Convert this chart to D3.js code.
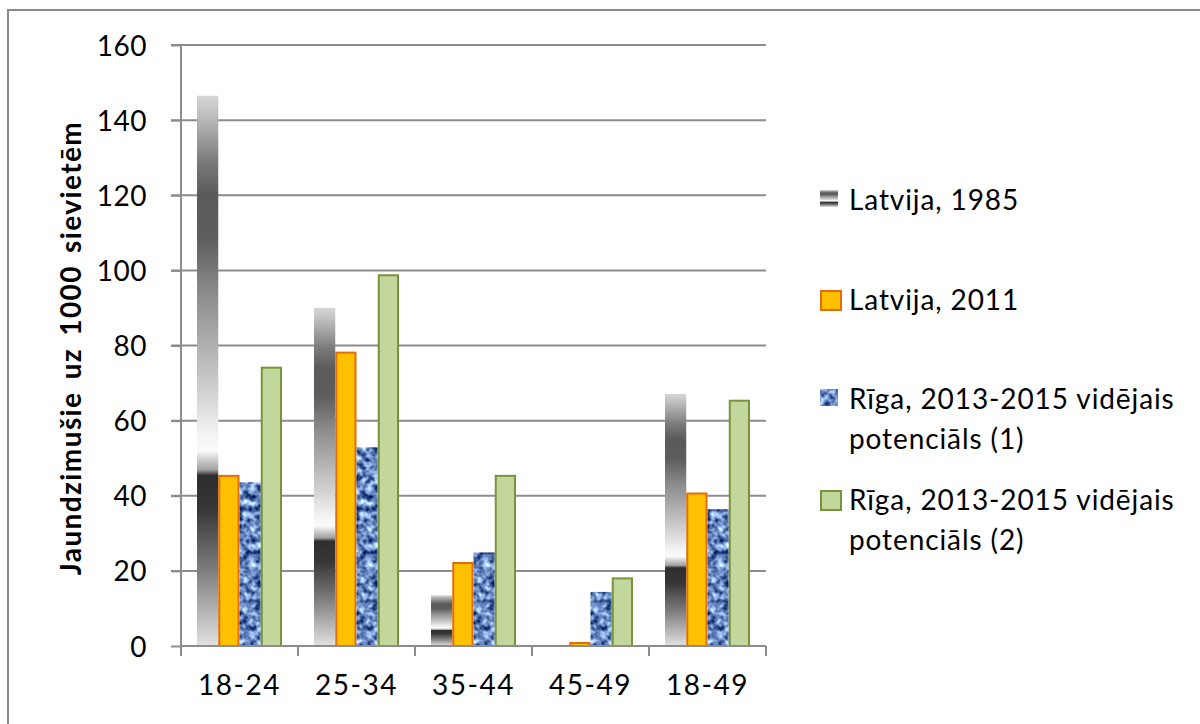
<!DOCTYPE html>
<html>
<head>
<meta charset="utf-8">
<script src="https://cdn.jsdelivr.net/npm/d3@7"></script>
<style>
  html, body { margin: 0; padding: 0; background: #fff; }
  svg { display: block; }
  text { font-family: Lato, "Open Sans", sans-serif; fill: #000; }
</style>
</head>
<body>
<svg id="chart" width="1200" height="724"></svg>
<script>
var categories = ['18-24', '25-34', '35-44', '45-49', '18-49'];
var latvija1985 = [146.5, 90, 13.5, 0.3, 67.1];
var latvija2011 = [45.3, 78.1, 22.1, 0.8, 40.6];
var riga1 = [43.6, 52.9, 24.9, 14.4, 36.4];
var riga2 = [74.1, 98.7, 45.3, 18.0, 65.3];
var yTicks = [0, 20, 40, 60, 80, 100, 120, 140, 160];

var seriesNames = [
    ['Latvija, 1985'],
    ['Latvija, 2011'],
    ['Rīga, 2013-2015 vidējais', 'potenciāls (1)'],
    ['Rīga, 2013-2015 vidējais', 'potenciāls (2)']
];
var seriesValues = [latvija1985, latvija2011, riga1, riga2];

var series = seriesValues.map(function (vals, i){
    return {key: 's' + i, lines: seriesNames[i], values: vals};
});

var svg = d3.select('#chart'),
    defs = svg.append('defs');

// metallic gray gradient used by Excel for the 1985 series
var metal = defs.append('linearGradient').attr('id', 'metal')
    .attr('x1', 0).attr('y1', 0).attr('x2', 0).attr('y2', 1);
[
    [0, '#d6d6d6'], [0.03, '#c2c2c2'], [0.12, '#7a7a7a'], [0.18, '#5a5a5a'],
    [0.26, '#5d5d5d'], [0.36, '#8c8c8c'], [0.46, '#b2b2b2'], [0.55, '#d6d6d6'],
    [0.62, '#f5f5f5'], [0.645, '#fbfbfb'], [0.66, '#d2d2d2'], [0.68, '#a0a0a0'],
    [0.69, '#2e2e2e'], [0.75, '#363636'], [0.86, '#7c7c7c'], [1, '#e2e2e2']
].forEach(function (s){
    metal.append('stop').attr('offset', s[0]).attr('stop-color', s[1]);
});

// blue "denim" texture
var denim = defs.append('filter').attr('id', 'denim')
    .attr('x', 0).attr('y', 0).attr('width', 1).attr('height', 1)
    .attr('color-interpolation-filters', 'sRGB');
denim.append('feTurbulence')
    .attr('type', 'fractalNoise')
    .attr('baseFrequency', 0.16)
    .attr('numOctaves', 2)
    .attr('seed', 7)
    .attr('result', 'noise');
denim.append('feColorMatrix')
    .attr('in', 'noise')
    .attr('type', 'matrix')
    .attr('values', '1.45 0 0 0 -0.32  1.5 0 0 0 -0.22  1.3 0 0 0 0.1  0 0 0 0 1')
    .attr('result', 'tex');
denim.append('feComposite')
    .attr('in', 'tex').attr('in2', 'SourceGraphic').attr('operator', 'in');

var styles = {
    s0: {fill: 'url(#metal)', stroke: 'none'},
    s1: {fill: '#ffc000', stroke: '#e46c0a'},
    s2: {fill: '#6f94d2', stroke: 'none', filter: 'url(#denim)'},
    s3: {fill: '#c3d69b', stroke: '#77933c'}
};

// outer frame
svg.append('rect')
    .attr('x', 8).attr('y', 10)
    .attr('width', 1200).attr('height', 730)
    .attr('fill', 'none')
    .attr('stroke', '#8a8a8a')
    .attr('stroke-width', 2);

var y = d3.scaleLinear().domain([0, 160]).range([646, 45]);
var x0 = d3.scaleBand().domain(categories).range([181, 766]);
var x1 = d3.scaleBand().domain(series.map(function (s){ return s.key; }))
    .range([16, x0.bandwidth() - 16]);

// gridlines
svg.append('g').selectAll('line')
    .data(yTicks.slice(1))
    .enter().append('line')
    .attr('x1', 171).attr('x2', 766)
    .attr('y1', function (d){ return y(d); })
    .attr('y2', function (d){ return y(d); })
    .attr('stroke', '#8c8c8c').attr('stroke-width', 2);

// y axis
var yAxis = svg.append('g').attr('transform', 'translate(181,0)')
    .call(d3.axisLeft(y).tickValues(yTicks).tickSize(10).tickPadding(24));
yAxis.select('.domain').attr('stroke', '#8c8c8c').attr('stroke-width', 2)
    .attr('d', 'M0,' + y(0) + 'V' + y(160));
yAxis.selectAll('.tick line').attr('stroke', '#8c8c8c').attr('stroke-width', 2);
yAxis.selectAll('.tick text')
    .attr('font-size', 28)
    .attr('dy', '0.36em')
    .style('font-family', 'Lato, sans-serif')
    .style('letter-spacing', '0.5px');

// bars
var groups = svg.append('g').selectAll('g')
    .data(categories)
    .enter().append('g')
    .attr('transform', function (d){ return 'translate(' + x0(d) + ',0)'; });

groups.selectAll('rect')
    .data(function (c, ci){
        return series.map(function (s){ return {key: s.key, value: s.values[ci]}; });
    })
    .enter().append('rect')
    .attr('x', function (d){ return x1(d.key) + (styles[d.key].stroke === 'none' ? 0 : 1); })
    .attr('width', function (d){ return x1.bandwidth() - (styles[d.key].stroke === 'none' ? 0 : 2); })
    .attr('y', function (d){ return y(d.value); })
    .attr('height', function (d){ return y(0) - y(d.value); })
    .attr('fill', function (d){ return styles[d.key].fill; })
    .attr('stroke', function (d){ return styles[d.key].stroke; })
    .attr('stroke-width', 2)
    .attr('filter', function (d){ return styles[d.key].filter || null; });

// x axis
var xAxis = svg.append('g').attr('transform', 'translate(0,' + y(0) + ')')
    .call(d3.axisBottom(x0).tickSize(0).tickPadding(32));
xAxis.select('.domain').attr('stroke', '#8c8c8c').attr('stroke-width', 2)
    .attr('d', 'M181,0H766');
xAxis.selectAll('.tick text')
    .attr('font-size', 28)
    .attr('dy', '0.6em')
    .style('font-family', 'Lato, sans-serif')
    .style('letter-spacing', '1.5px');
xAxis.append('g').selectAll('line')
    .data(categories.concat(['end']))
    .enter().append('line')
    .attr('x1', function (d, i){ return 181 + i * x0.bandwidth(); })
    .attr('x2', function (d, i){ return 181 + i * x0.bandwidth(); })
    .attr('y1', 0).attr('y2', 10)
    .attr('stroke', '#8c8c8c').attr('stroke-width', 2);

// y axis title
svg.append('text')
    .attr('transform', 'translate(81,348) rotate(-90)')
    .attr('text-anchor', 'middle')
    .attr('font-size', 28)
    .attr('font-weight', 'bold')
    .style('letter-spacing', '1.4px')
    .style('word-spacing', '4px')
    .text('Jaundzimušie uz 1000 sievietēm');

// legend
var legendTop = [190, 290, 389, 490];
var legend = svg.append('g').selectAll('g')
    .data(series)
    .enter().append('g')
    .attr('transform', function (d, i){ return 'translate(820,' + legendTop[i] + ')'; });

legend.append('rect')
    .attr('x', function (d){ return styles[d.key].stroke === 'none' ? 0 : 1; })
    .attr('y', function (d){ return styles[d.key].stroke === 'none' ? 0 : 1; })
    .attr('width', function (d){ return styles[d.key].stroke === 'none' ? 18 : 20; })
    .attr('height', function (d){ return styles[d.key].stroke === 'none' ? 17 : 19; })
    .attr('fill', function (d){ return styles[d.key].fill; })
    .attr('stroke', function (d){ return styles[d.key].stroke; })
    .attr('stroke-width', 2)
    .attr('filter', function (d){ return styles[d.key].filter || null; });

legend.selectAll('text')
    .data(function (d){ return d.lines; })
    .enter().append('text')
    .attr('x', 29)
    .attr('y', function (d, i){ return 20 + i * 40; })
    .attr('font-size', 28)
    .style('letter-spacing', '0.9px')
    .text(function (d){ return d; });
</script>
</body>
</html>
